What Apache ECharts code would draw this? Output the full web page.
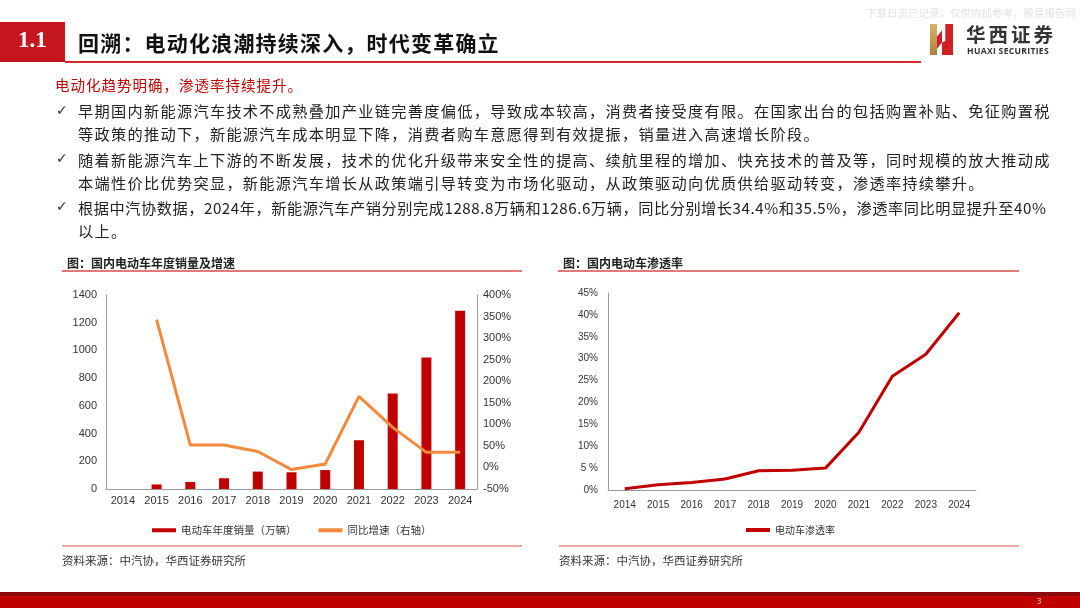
<!DOCTYPE html>
<html><head><meta charset="utf-8">
<script src="https://cdn.jsdelivr.net/npm/echarts@6/dist/echarts.min.js"></script>
<style>
html,body{margin:0;padding:0;background:#fff;}
#page{position:relative;width:1080px;height:608px;overflow:hidden;background:#fff;font-family:"Noto Sans CJK SC","Noto Sans",sans-serif;}
#chart{position:absolute;left:0;top:0;width:1080px;height:608px;}
.t{position:absolute;white-space:nowrap;z-index:2;}
.bar{position:absolute;z-index:2;}
.bl{position:absolute;left:78px;font-size:15.2px;color:#222;letter-spacing:1.3px;white-space:nowrap;z-index:2;line-height:23px;}
.ck{position:absolute;left:56px;font-size:14px;color:#333;font-family:"DejaVu Sans";z-index:2;}
</style></head>
<body><div id="page">
<div id="chart"></div>
<div class="t" style="right:4px;top:5px;font-size:10.5px;color:#e2e2e2;">下载日志已记录，仅供内部参考，股票报告网</div>
<div class="bar" style="left:0;top:22px;width:65px;height:40px;background:#c4161c;"></div>
<div class="t" style="left:18px;top:27px;font-size:23px;font-weight:bold;color:#fff;font-family:'Liberation Serif',serif;">1.1</div>
<div class="t" style="left:78px;top:27px;font-size:21px;font-weight:bold;color:#111;letter-spacing:1.2px;">回溯：电动化浪潮持续深入，时代变革确立</div>
<div class="bar" style="left:65px;top:61px;width:856px;height:2px;background:#d42a2a;"></div>
<!-- logo -->
<div class="bar" style="left:930px;top:24px;width:7px;height:31px;background:linear-gradient(#d9b26a,#a8823c);"></div>
<div class="bar" style="left:937px;top:24px;width:5px;height:31px;background:#d11f26;clip-path:polygon(0 40%,100% 20%,100% 60%,0 80%);"></div>
<div class="bar" style="left:942px;top:24px;width:11px;height:31px;background:#d11f26;clip-path:polygon(30% 0,100% 0,100% 100%,0 100%,0 60%,30% 55%);"></div>
<div class="t" style="left:966px;top:19px;font-size:19.5px;font-weight:bold;color:#333;letter-spacing:3px;">华西证券</div>
<div class="t" style="left:967px;top:45px;font-size:8.6px;font-weight:bold;color:#333;letter-spacing:0.3px;font-family:'Open Sans',sans-serif;">HUAXI SECURITIES</div>

<div class="t" style="left:55px;top:74px;font-size:14.5px;color:#c00000;letter-spacing:1px;">电动化趋势明确，渗透率持续提升。</div>

<div class="ck" style="top:102px;">✓</div>
<div class="bl" style="top:99px;">早期国内新能源汽车技术不成熟叠加产业链完善度偏低，导致成本较高，消费者接受度有限。在国家出台的包括购置补贴、免征购置税</div>
<div class="bl" style="top:122px;">等政策的推动下，新能源汽车成本明显下降，消费者购车意愿得到有效提振，销量进入高速增长阶段。</div>
<div class="ck" style="top:150px;">✓</div>
<div class="bl" style="top:148px;">随着新能源汽车上下游的不断发展，技术的优化升级带来安全性的提高、续航里程的增加、快充技术的普及等，同时规模的放大推动成</div>
<div class="bl" style="top:171px;">本端性价比优势突显，新能源汽车增长从政策端引导转变为市场化驱动，从政策驱动向优质供给驱动转变，渗透率持续攀升。</div>
<div class="ck" style="top:198px;">✓</div>
<div class="bl" style="top:196px;letter-spacing:0.55px;">根据中汽协数据，2024年，新能源汽车产销分别完成1288.8万辆和1286.6万辆，同比分别增长34.4%和35.5%，渗透率同比明显提升至40%</div>
<div class="bl" style="top:219px;">以上。</div>

<div class="t" style="left:67px;top:254px;font-size:12px;font-weight:bold;color:#222;">图：国内电动车年度销量及增速</div>
<div class="bar" style="left:62px;top:270px;width:460px;height:2px;background:#e07a7a;"></div>
<div class="t" style="left:563px;top:254px;font-size:12px;font-weight:bold;color:#222;">图：国内电动车渗透率</div>
<div class="bar" style="left:558px;top:270px;width:461px;height:2px;background:#e07a7a;"></div>

<div class="bar" style="left:62px;top:545px;width:460px;height:2px;background:#eaa8a8;"></div>
<div class="bar" style="left:559px;top:545px;width:460px;height:2px;background:#eaa8a8;"></div>
<div class="t" style="left:62px;top:552px;font-size:11.5px;color:#333;">资料来源：中汽协，华西证券研究所</div>
<div class="t" style="left:559px;top:552px;font-size:11.5px;color:#333;">资料来源：中汽协，华西证券研究所</div>

<div class="bar" style="left:0;top:592px;width:1080px;height:4px;background:#8a0b0b;"></div>
<div class="bar" style="left:0;top:596px;width:1080px;height:12px;background:#c00000;"></div>
<div class="t" style="left:1037px;top:595px;font-size:8px;color:#f3d0d0;">3</div>
</div>
<script>
const years = ['2014','2015','2016','2017','2018','2019','2020','2021','2022','2023','2024'];
const sales = [null, 33.1, 50.7, 77.7, 125.6, 120.6, 136.7, 352.1, 688.7, 949.5, 1286.6];
const growth = [null, 343, 52, 52, 37, -5, 8, 165, 93, 35, 35];
const penetration = [0.3, 1.2, 1.7, 2.5, 4.4, 4.5, 5.0, 13.2, 26.0, 31.0, 40.5];
const salesTicks = ['0','200','400','600','800','1000','1200','1400'];
const growthTicks = ['-50%','0%','50%','100%','150%','200%','250%','300%','350%','400%'];
const penTicks = ['0%','5 %','10%','15%','20%','25%','30%','35%','40%','45%'];

const axisLine = {show:true, lineStyle:{color:'#9a9a9a', width:1}};
const lbl = {color:'#333', fontFamily:'Liberation Sans, Arial', fontSize:11};
const chart = echarts.init(document.getElementById('chart'));
chart.setOption({
  animation:false,
  grid:[
    {left:106, top:295, width:371, height:194},
    {left:608, top:293, width:368, height:197}
  ],
  legend:[
    {data:['电动车年度销量（万辆）','同比增速（右轴）'], left:147, top:520, itemWidth:24, itemHeight:4, itemGap:22,
     icon:'rect', textStyle:{color:'#333', fontSize:10.5, fontFamily:'Noto Sans CJK SC'}},
    {data:['电动车渗透率'], left:741, top:520, itemWidth:24, itemHeight:4, icon:'rect',
     textStyle:{color:'#333', fontSize:10, fontFamily:'Noto Sans CJK SC'}}
  ],
  xAxis:[
    {type:'category', gridIndex:0, data:years, boundaryGap:true, axisLine:axisLine, axisTick:{show:false},
     axisLabel:Object.assign({margin:6, interval:0}, lbl)},
    {type:'category', gridIndex:1, data:years, boundaryGap:true, axisLine:axisLine, axisTick:{show:false},
     axisLabel:Object.assign({margin:10, interval:0}, lbl, {fontSize:10})}
  ],
  yAxis:[
    {type:'value', gridIndex:0, min:0, max:1400, interval:200, axisLine:axisLine, axisTick:{show:false}, splitLine:{show:false},
     axisLabel:Object.assign({margin:9, formatter:(v,i)=>salesTicks[i]}, lbl)},
    {type:'value', gridIndex:0, position:'right', min:-50, max:400, interval:50, axisLine:axisLine, axisTick:{show:false}, splitLine:{show:false},
     axisLabel:Object.assign({margin:6, formatter:(v,i)=>growthTicks[i]}, lbl)},
    {type:'value', gridIndex:1, min:0, max:45, interval:5, axisLine:axisLine, axisTick:{show:false}, splitLine:{show:false},
     axisLabel:Object.assign({margin:10, formatter:(v,i)=>penTicks[i]}, lbl, {fontSize:10})}
  ],
  series:[
    {name:'电动车年度销量（万辆）', type:'bar', xAxisIndex:0, yAxisIndex:0, data:sales, barWidth:10,
     itemStyle:{color:'#c00000'}},
    {name:'同比增速（右轴）', type:'line', xAxisIndex:0, yAxisIndex:1, data:growth, symbol:'none',
     lineStyle:{color:'#f2893d', width:3}, itemStyle:{color:'#f2893d'}},
    {name:'电动车渗透率', type:'line', xAxisIndex:1, yAxisIndex:2, data:penetration, symbol:'none',
     lineStyle:{color:'#c00000', width:3}, itemStyle:{color:'#c00000'}}
  ]
});
</script>
</body></html>
